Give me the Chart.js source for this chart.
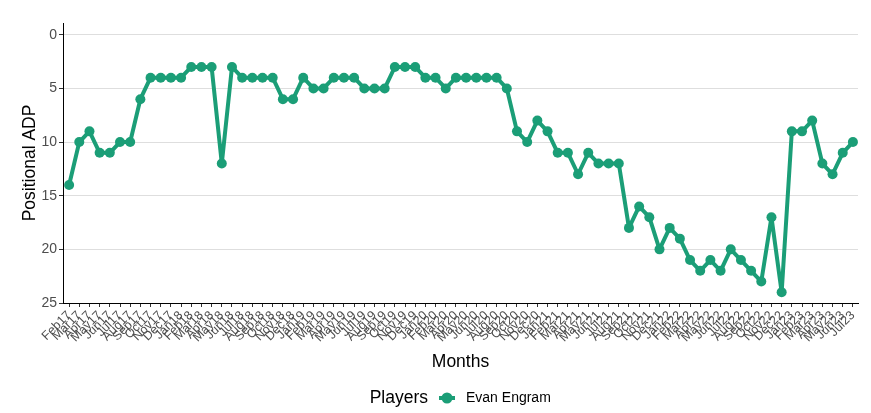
<!DOCTYPE html>
<html>
<head>
<meta charset="utf-8">
<script src="https://cdn.jsdelivr.net/npm/chart.js@4.4.0/dist/chart.umd.min.js"></script>
<style>
  html, body { margin: 0; padding: 0; background: #fff; }
  #wrap { width: 871px; height: 413px; }
</style>
</head>
<body>
<div id="wrap"><canvas id="adpChart"></canvas></div>
<script>
// months Feb 2017 .. Jul 2023
const months = [
  'Feb17','Mar17','Apr17','May17','Jun17','Jul17','Aug17','Sep17','Oct17','Nov17','Dec17',
  'Jan18','Feb18','Mar18','Apr18','May18','Jun18','Jul18','Aug18','Sep18','Oct18','Nov18','Dec18',
  'Jan19','Feb19','Mar19','Apr19','May19','Jun19','Jul19','Aug19','Sep19','Oct19','Nov19','Dec19',
  'Jan20','Feb20','Mar20','Apr20','May20','Jun20','Jul20','Aug20','Sep20','Oct20','Nov20','Dec20',
  'Jan21','Feb21','Mar21','Apr21','May21','Jun21','Jul21','Aug21','Sep21','Oct21','Nov21','Dec21',
  'Jan22','Feb22','Mar22','Apr22','May22','Jun22','Jul22','Aug22','Sep22','Oct22','Nov22','Dec22',
  'Jan23','Feb23','Mar23','Apr23','May23','Jun23','Jul23'
];
const playerName = 'Evan Engram';
const adp = [
  14,10,9,11,11,10,10,6,4,4,4,
  4,3,3,3,12,3,4,4,4,4,6,6,
  4,5,5,4,4,4,5,5,5,3,3,3,
  4,4,5,4,4,4,4,4,5,9,10,8,
  9,11,11,13,11,12,12,12,18,16,17,20,
  18,19,21,22,21,22,20,21,22,23,17,24,
  9,9,8,12,13,11,10
];
const yTicks = [0, 5, 10, 15, 20, 25];

const green = '#1b9e77';
const tickGrey = '#4d4d4d';
const legendItemX = 435;   // where the legend key should start
const legendDrop = 2;
let legendShift = 0;

// legend key: short line with a dot, like the ggplot key
const key = document.createElement('canvas');
key.width = 16; key.height = 12;
(function () {
  const k = key.getContext('2d');
  k.fillStyle = green;
  k.fillRect(0, 4, 16, 4);
  k.beginPath();
  k.arc(8, 6, 5.5, 0, Math.PI * 2);
  k.fill();
})();

// moves the legend right to leave room for the inline "Players" title
const legendExtras = {
  id: 'legendExtras',
  beforeDraw(chart) {
    const lg = chart.legend;
    if (!lg || !lg.lineWidths) return;
    const pad = lg.options.labels.padding;
    const natural = (lg.left + pad + lg.right - lg.lineWidths[0]) / 2;
    legendShift = legendItemX - natural;
    lg.left += legendShift;
    lg.right += legendShift;
    lg.top += legendDrop;
    lg.bottom += legendDrop;
  },
  afterDraw(chart) {
    const lg = chart.legend;
    if (!lg || !lg.lineWidths) return;
    lg.left -= legendShift;
    lg.right -= legendShift;
    lg.top -= legendDrop;
    lg.bottom -= legendDrop;
    const pad = lg.options.labels.padding;
    const cy = lg.top + legendDrop + pad + 7;
    const ctx = chart.ctx;
    ctx.save();
    ctx.fillStyle = '#000';
    ctx.font = '17.5px "Liberation Sans", Arial, sans-serif';
    ctx.textAlign = 'right';
    ctx.textBaseline = 'middle';
    ctx.fillText('Players', legendItemX - 7, cy);
    ctx.restore();
  }
};

const ctx = document.getElementById('adpChart').getContext('2d');
new Chart(ctx, {
  type: 'line',
  data: {
    datasets: [{
      label: playerName,
      data: adp.map((v, i) => ({ x: i, y: v })),
      borderColor: green,
      backgroundColor: green,
      borderWidth: 4,
      borderJoinStyle: 'round',
      borderCapStyle: 'round',
      pointRadius: 5,
      pointBackgroundColor: green,
      pointBorderWidth: 0,
      tension: 0
    }]
  },
  options: {
    responsive: true,
    maintainAspectRatio: false,
    animation: false,
    layout: { padding: { top: 23, right: 13, left: 0, bottom: 0 } },
    plugins: {
      tooltip: { enabled: false },
      legend: {
        position: 'bottom',
        labels: {
          usePointStyle: true,
          pointStyleWidth: 24,
          boxHeight: 7,
          padding: 4,
          color: '#000',
          font: { family: 'Liberation Sans', size: 14 },
          generateLabels: chart => chart.data.datasets.map((ds, i) => ({
            text: ds.label,
            pointStyle: key,
            fillStyle: green,
            strokeStyle: green,
            lineWidth: 0,
            datasetIndex: i
          }))
        }
      }
    },
    scales: {
      x: {
        type: 'linear',
        min: -0.6,
        max: 77.5,
        afterFit(axis) { axis.height = 82; },
        border: { display: true, color: '#000', width: 1 },
        grid: { drawOnChartArea: false, tickColor: '#333', tickLength: 4 },
        ticks: {
          stepSize: 1,
          includeBounds: false,
          autoSkip: false,
          maxTicksLimit: 200,
          minRotation: 45,
          maxRotation: 45,
          padding: 1,
          color: tickGrey,
          font: { family: 'Liberation Sans', size: 12.5 },
          callback: v => months[v]
        },
        title: {
          display: true,
          text: 'Months',
          color: '#000',
          font: { family: 'Liberation Sans', size: 17.5 },
          padding: { top: 0, bottom: 12 }
        }
      },
      y: {
        reverse: true,
        min: -1.1,
        max: 25,
        afterFit(axis) { axis.width = 63; },
        afterBuildTicks(axis) { axis.ticks = yTicks.map(v => ({ value: v })); },
        border: { display: true, color: '#000', width: 1 },
        grid: { color: '#dedede', lineWidth: 1, tickColor: '#333', tickLength: 4 },
        ticks: {
          padding: 2,
          color: tickGrey,
          font: { family: 'Liberation Sans', size: 14 }
        },
        title: {
          display: true,
          text: 'Positional ADP',
          color: '#000',
          font: { family: 'Liberation Sans', size: 17.5 },
          padding: { top: 20, bottom: 0 }
        }
      }
    }
  },
  plugins: [legendExtras]
});
</script>
</body>
</html>
